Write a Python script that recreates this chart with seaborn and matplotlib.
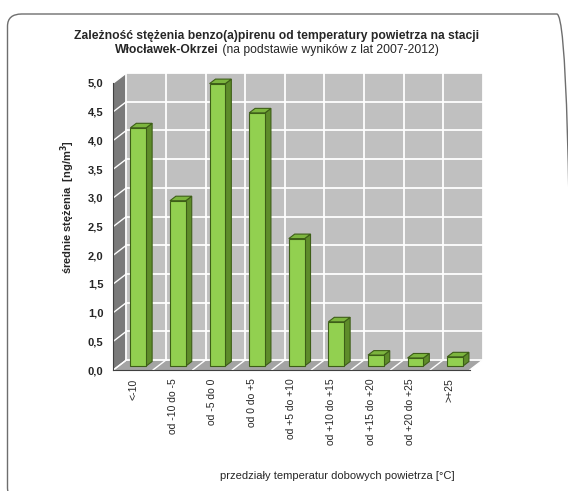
import matplotlib
matplotlib.use("Agg")
import matplotlib.pyplot as plt
from matplotlib.patches import Polygon, FancyBboxPatch
import numpy as np
import pandas as pd
import seaborn as sns

# Temperature ranges and mean benzo(a)pyrene concentrations
categories = ["<-10", "od -10 do -5", "od -5 do 0", "od 0 do +5", "od +5 do +10",
              "od +10 do +15", "od +15 do +20", "od +20 do +25", ">+25"]
values = [4.15, 2.88, 4.92, 4.41, 2.22, 0.77, 0.19, 0.14, 0.16]
y_ticks = [0.0, 0.5, 1.0, 1.5, 2.0, 2.5, 3.0, 3.5, 4.0, 4.5, 5.0]

title_line1 = "Zależność stężenia benzo(a)pirenu od temperatury powietrza na stacji"
title_bold2 = "Włocławek-Okrzei"
title_norm2 = " (na podstawie wyników z lat 2007-2012)"
y_label = "średnie stężenia  [ng/m$\\mathbf{^3}$]"
x_label = "przedziały temperatur dobowych powietrza [°C]"

sns.set_style("white")
plt.rcParams["font.family"] = ["Liberation Sans", "DejaVu Sans"]

W, H = 568, 491
fig = plt.figure(figsize=(W / 100, H / 100), dpi=100)

# pseudo-3D depth offset (in data units) between front plane and back wall
DX, DY = 0.33, 0.174
F0, F1 = 0.40, 0.85  # bar front/back depth fractions
YMAX = 5.0

x_left_px, x_per_cat = 113.3, 39.6
y_zero_px, y_per_unit = 370.0, 57.4
xlim = (-0.5, 9.0)
ylim = (0.0, 5.35)
ax_left = x_left_px / W
ax_width = (xlim[1] - xlim[0]) * x_per_cat / W
ax_bottom = (H - y_zero_px) / H
ax_height = (ylim[1] - ylim[0]) * y_per_unit / H
ax = fig.add_axes([ax_left, ax_bottom, ax_width, ax_height])

n = len(categories)
wall_col = "#c0c0c0"
side_col = "#7a7a7a"
floor_col = "#a4a4a4"
grid_col = "white"

# back wall, side wall, floor
ax.add_patch(Polygon([(-0.5 + DX, DY), (n - 0.5 + DX, DY), (n - 0.5 + DX, YMAX + DY),
                      (-0.5 + DX, YMAX + DY)], closed=True, fc=wall_col, ec="none", zorder=0))
ax.add_patch(Polygon([(-0.5, 0), (-0.5, YMAX), (-0.5 + DX, YMAX + DY), (-0.5 + DX, DY)],
                     closed=True, fc=side_col, ec="none", zorder=0))
ax.add_patch(Polygon([(-0.5, 0), (n - 0.5, 0), (n - 0.5 + DX, DY), (-0.5 + DX, DY)],
                     closed=True, fc=floor_col, ec="none", zorder=0))

# gridlines on walls
for v in y_ticks:
    ax.plot([-0.5 + DX, n - 0.5 + DX], [v + DY, v + DY], color=grid_col, lw=1.3, zorder=1)
    ax.plot([-0.5, -0.5 + DX], [v, v + DY], color=grid_col, lw=1.0, zorder=1)
for k in range(n + 1):
    xb = k - 0.5
    ax.plot([xb + DX, xb + DX], [DY, YMAX + DY], color=grid_col, lw=1.3, zorder=1)
    ax.plot([xb, xb + DX], [0, DY], color=grid_col, lw=1.0, zorder=1)

# bars (front faces)
df = pd.DataFrame({"kat": categories, "val": values})
front_col = "#92d050"
edge_col = "#3d5e17"
sns.barplot(data=df, x="kat", y="val", color=front_col, saturation=1, width=0.4,
            edgecolor=edge_col, linewidth=0.8, ax=ax, zorder=3)

sx, sy = F0 * DX, F0 * DY
ddx, ddy = (F1 - F0) * DX, (F1 - F0) * DY
for p in list(ax.patches):
    if type(p) is not matplotlib.patches.Rectangle:
        continue
    p.set_x(p.get_x() + sx)
    p.set_y(p.get_y() + sy)
    x0 = p.get_x()
    x1 = x0 + p.get_width()
    y0 = p.get_y()
    y1 = y0 + p.get_height()
    ax.add_patch(Polygon([(x1, y0), (x1, y1), (x1 + ddx, y1 + ddy), (x1 + ddx, y0 + ddy)],
                         closed=True, fc="#5e8c2a", ec=edge_col, lw=0.8, zorder=2.9))
    ax.add_patch(Polygon([(x0, y1), (x1, y1), (x1 + ddx, y1 + ddy), (x0 + ddx, y1 + ddy)],
                         closed=True, fc="#7cb53e", ec=edge_col, lw=0.8, zorder=2.9))

ax.set_xlim(*xlim)
ax.set_ylim(*ylim)

# axes: front plane
for s in ["top", "right"]:
    ax.spines[s].set_visible(False)
ax.spines["left"].set_bounds(0, YMAX)
ax.spines["bottom"].set_bounds(-0.5, n - 0.5)
for s in ["left", "bottom"]:
    ax.spines[s].set_color("#404040")
    ax.spines[s].set_linewidth(0.8)
    ax.spines[s].set_zorder(4)

ax.set_yticks(y_ticks)
ax.set_yticklabels([f"{v:.1f}".replace(".", ",") for v in y_ticks],
                   fontsize=8, fontweight="bold")
ax.tick_params(axis="y", length=4, width=0.8, color="#404040", pad=3)

ax.set_xticks(range(n))
ax.set_xticklabels(categories, rotation=90, fontsize=7.5, va="top", ha="center")
ax.set_xticks(np.arange(-0.5, n, 1.0), minor=True)
ax.tick_params(axis="x", which="major", length=0, pad=6)
ax.tick_params(axis="x", which="minor", length=4, width=0.8, color="#404040")
ax.set_xlabel("")
ax.set_ylabel("")

# axis titles
fig.text(68 / W, 1 - 207 / H, y_label, rotation=90, ha="center", va="center",
         fontsize=8, fontweight="bold")
fig.text(337 / W, 1 - 476 / H, x_label, ha="center", va="center", fontsize=8)

# title
fig.text(277 / W, 1 - 36 / H, title_line1, ha="center", va="center",
         fontsize=8.7, fontweight="bold")
t_b = fig.text(0, 1 - 50 / H, title_bold2, ha="left", va="center", fontsize=8.7,
               fontweight="bold")
t_n = fig.text(0, 1 - 50 / H, title_norm2, ha="left", va="center", fontsize=8.7)
fig.canvas.draw()
r = fig.canvas.get_renderer()
wb = t_b.get_window_extent(r).width
wn = t_n.get_window_extent(r).width
start = 277 - (wb + wn) / 2
t_b.set_x(start / W)
t_n.set_x((start + wb) / W)

# rounded frame around the chart (runs past the right and bottom edges)
frame = FancyBboxPatch((7.5 / W, 1 - 500 / H), (571 - 7.5) / W, (500 - 14) / H,
                       boxstyle="round,pad=0,rounding_size=0.025",
                       transform=fig.transFigure, fc="none", ec="#6e6e6e", lw=1.0)
fig.patches.append(frame)

fig.savefig("out.png", dpi=100)
